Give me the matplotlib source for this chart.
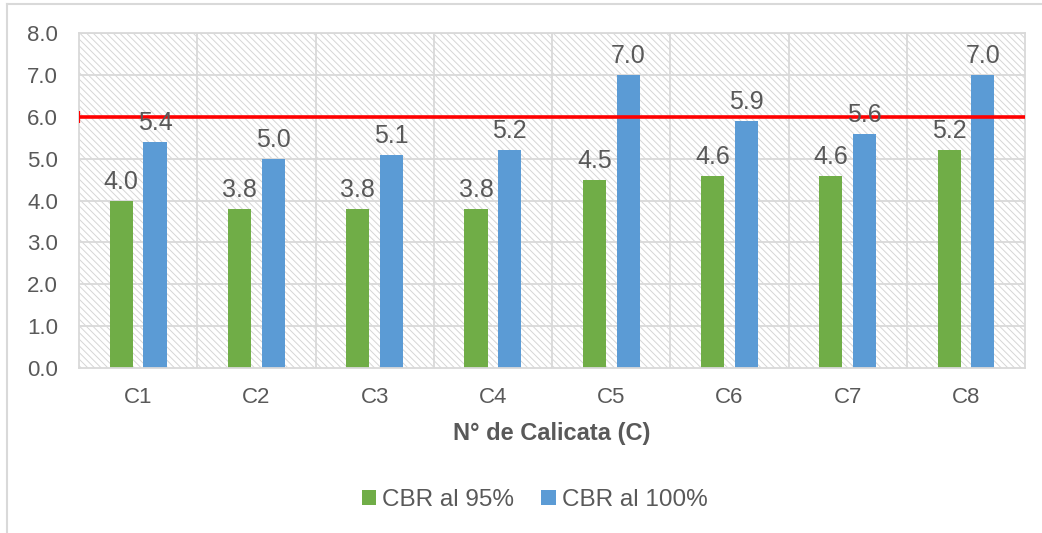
import numpy as np
import matplotlib.pyplot as plt
from matplotlib.patches import Rectangle
from matplotlib.lines import Line2D

plt.rcParams['font.family'] = ['Liberation Sans', 'DejaVu Sans']
plt.rcParams['hatch.linewidth'] = 0.7

DPI = 100
IMG_SIZE = (1042, 533)
TXT = "#595959"
GRID = "#d9d9d9"

calicatas = ["C1", "C2", "C3", "C4", "C5", "C6", "C7", "C8"]
cbr_95 = [4.0, 3.8, 3.8, 3.8, 4.5, 4.6, 4.6, 5.2]
cbr_100 = [5.4, 5.0, 5.1, 5.2, 7.0, 5.9, 5.6, 7.0]
limite = 6.0

fig = plt.figure(figsize=(IMG_SIZE[0]/DPI, IMG_SIZE[1]/DPI), dpi=DPI)
ax = fig.add_axes([0.0758, 0.3096, 0.908, 0.628])

# outer chart frame (left and top edges only show)
fig.add_artist(Line2D([0.0067, 0.0067], [0, 0.9925], color=GRID, lw=1.5))
fig.add_artist(Line2D([0.0067, 1], [0.9925, 0.9925], color=GRID, lw=1.5))

x = np.arange(len(calicatas))
w = 0.195
off = 0.143

# hatched plot area
ax.add_patch(Rectangle((0, 0), 1, 1, transform=ax.transAxes, facecolor="white",
                       edgecolor="#d6d6d6", hatch="\\" * 5, lw=0, zorder=0))

for y in range(1, 9):
    ax.axhline(y, color=GRID, lw=1.3, zorder=1)
for b in np.arange(0.5, len(calicatas) - 1, 1):
    ax.axvline(b, color=GRID, lw=1.3, zorder=1)

b1 = ax.bar(x - off, cbr_95, w, color="#70AD47", label="CBR al 95%", zorder=2)
b2 = ax.bar(x + off, cbr_100, w, color="#5B9BD5", label="CBR al 100%", zorder=2)

for bars, vals in ((b1, cbr_95), (b2, cbr_100)):
    for r, v in zip(bars, vals):
        ax.annotate(f"{v:.1f}", (r.get_x() + r.get_width()/2, v), xytext=(0, 5),
                    textcoords="offset points", ha="center", va="bottom",
                    fontsize=18, color=TXT, zorder=4)

# limit line
ax.plot([-0.5, len(calicatas) - 0.5], [limite, limite], color="#ff0000", lw=2.6, zorder=3,
        solid_capstyle="butt")
ax.plot([-0.5], [limite], marker="|", ms=9, mew=1.6, color="#ff0000", zorder=3)

ax.set_xlim(-0.5, len(calicatas) - 0.5)
ax.set_ylim(0, 8)
ax.set_yticks(np.arange(0, 9, 1))
ax.set_yticklabels([f"{v:.1f}" for v in range(9)])
ax.set_xticks(x)
ax.set_xticklabels(calicatas)
ax.tick_params(length=0, labelsize=16, labelcolor=TXT)
ax.tick_params(axis="y", pad=15)
ax.tick_params(axis="x", pad=14)
for s in ax.spines.values():
    s.set_color(GRID)
    s.set_linewidth(1.3)
ax.set_xlabel("N° de Calicata (C)", fontsize=17, fontweight="bold", color=TXT, labelpad=10)

fig.legend(handles=[b1, b2], loc="center", bbox_to_anchor=(0.513, 0.062), ncol=2,
           frameon=False, fontsize=17.5, labelcolor=TXT, handlelength=0.6, handleheight=0.6,
           handletextpad=0.25, columnspacing=1.1)

fig.savefig("out.png", dpi=DPI)
